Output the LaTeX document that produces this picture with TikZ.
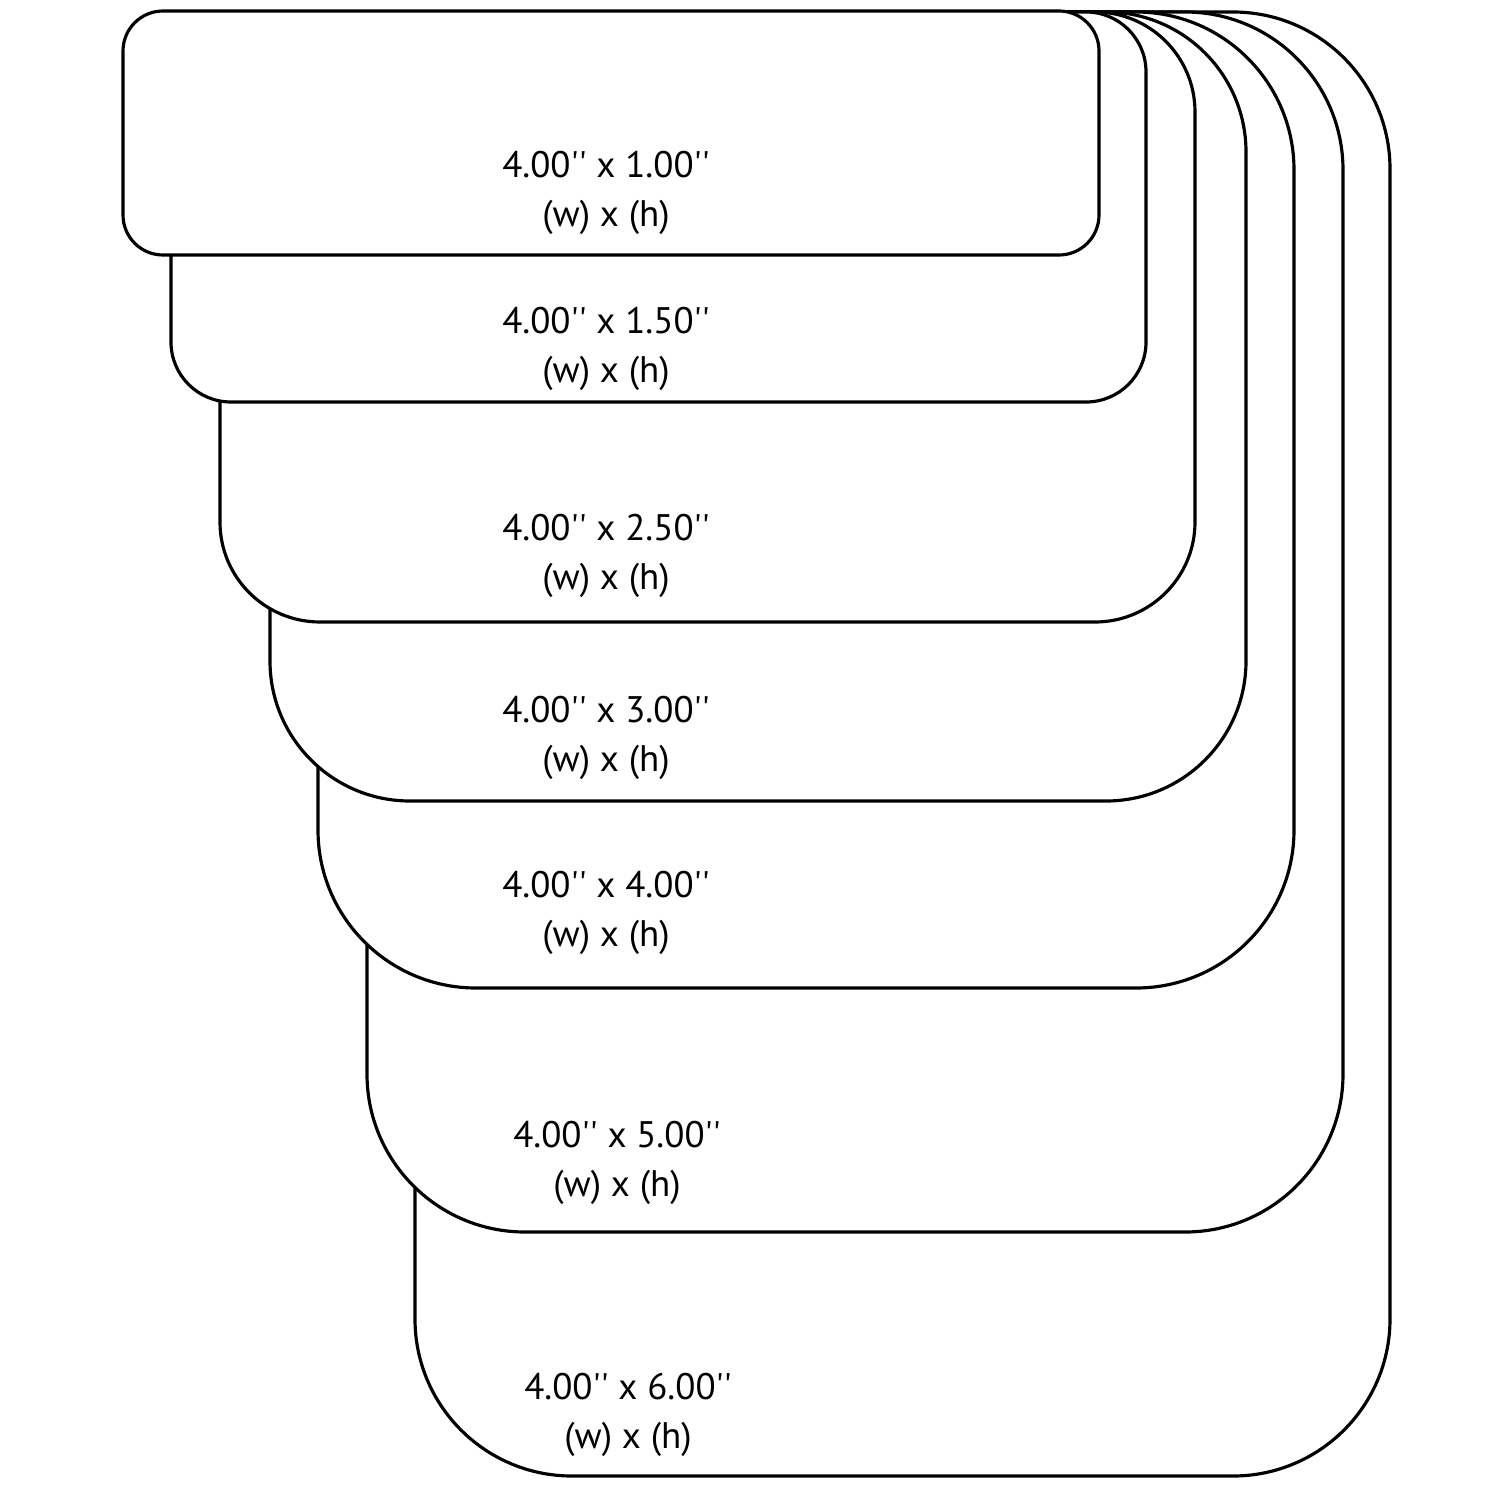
\documentclass[tikz,border=0pt]{standalone}
\usepackage{fontspec}
\setmainfont{PT Sans}
\usepackage{tikz}
\newcommand\inch{\textquotesingle\textquotesingle}
\newcommand\size[1]{4.00\inch{} x #1\inch \\ (w) x (h)}

\begin{document}
\begin{tikzpicture}[x=0.01cm, y=-0.01cm,
    card/.style={draw=black, fill=white, line width=0.9pt},
    label/.style={align=center, font=\fontsize{10.5}{13.8}\selectfont}]
  \useasboundingbox (0,0) rectangle (1500,1500);
  % cards from back to front
  \foreach \l/\t/\r/\b/\rad in {415/12/1390/1476/157, 367/12/1343/1232/158,
      318/12/1294/988/158, 270/12/1246/801/140, 220/12/1195/622/100,
      171/12/1146/402/60, 123/11/1099/255/40}
    \draw [card, rounded corners=\rad*0.01cm] (\l,\t) rectangle (\r,\b);
  \node [label] (one) at (606,193) {\size{1.00}};
  \node [label] (onehalf) at (606,349) {\size{1.50}};
  \node [label] (twohalf) at (606,556) {\size{2.50}};
  \node [label] (three) at (606,738) {\size{3.00}};
  \node [label] (four) at (606,913) {\size{4.00}};
  \node [label] (five) at (617,1163) {\size{5.00}};
  \node [label] (six) at (628,1415) {\size{6.00}};
\end{tikzpicture}
\end{document}
